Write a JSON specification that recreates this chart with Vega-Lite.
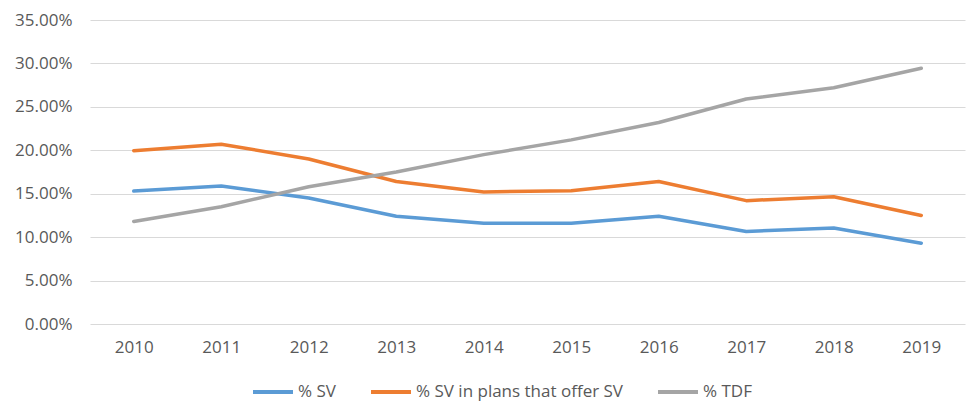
{
  "$schema": "https://vega.github.io/schema/vega-lite/v6.json",
  "autosize": {"type": "none"},
  "width": 875,
  "height": 304,
  "padding": {"left": 90, "top": 20, "right": 14, "bottom": 77},
  "background": "white",
  "config": {
    "font": "Open Sans",
    "view": {"stroke": null}
  },
  "data": {
    "values": [
      {"year": "2010", "series": "% SV", "value": 0.153},
      {"year": "2011", "series": "% SV", "value": 0.159},
      {"year": "2012", "series": "% SV", "value": 0.145},
      {"year": "2013", "series": "% SV", "value": 0.124},
      {"year": "2014", "series": "% SV", "value": 0.116},
      {"year": "2015", "series": "% SV", "value": 0.116},
      {"year": "2016", "series": "% SV", "value": 0.124},
      {"year": "2017", "series": "% SV", "value": 0.1065},
      {"year": "2018", "series": "% SV", "value": 0.1105},
      {"year": "2019", "series": "% SV", "value": 0.093},
      {"year": "2010", "series": "% SV in plans that offer SV", "value": 0.1995},
      {"year": "2011", "series": "% SV in plans that offer SV", "value": 0.207},
      {"year": "2012", "series": "% SV in plans that offer SV", "value": 0.19},
      {"year": "2013", "series": "% SV in plans that offer SV", "value": 0.164},
      {"year": "2014", "series": "% SV in plans that offer SV", "value": 0.152},
      {"year": "2015", "series": "% SV in plans that offer SV", "value": 0.1535},
      {"year": "2016", "series": "% SV in plans that offer SV", "value": 0.164},
      {"year": "2017", "series": "% SV in plans that offer SV", "value": 0.142},
      {"year": "2018", "series": "% SV in plans that offer SV", "value": 0.1465},
      {"year": "2019", "series": "% SV in plans that offer SV", "value": 0.125},
      {"year": "2010", "series": "% TDF", "value": 0.118},
      {"year": "2011", "series": "% TDF", "value": 0.135},
      {"year": "2012", "series": "% TDF", "value": 0.158},
      {"year": "2013", "series": "% TDF", "value": 0.175},
      {"year": "2014", "series": "% TDF", "value": 0.195},
      {"year": "2015", "series": "% TDF", "value": 0.212},
      {"year": "2016", "series": "% TDF", "value": 0.232},
      {"year": "2017", "series": "% TDF", "value": 0.259},
      {"year": "2018", "series": "% TDF", "value": 0.272},
      {"year": "2019", "series": "% TDF", "value": 0.2945}
    ]
  },
  "mark": {"type": "line", "strokeWidth": 3.5, "strokeCap": "round", "strokeJoin": "round"},
  "encoding": {
    "x": {
      "field": "year",
      "type": "ordinal",
      "scale": {"type": "point", "padding": 0.5},
      "axis": {
        "title": null,
        "labelAngle": 0,
        "domain": false,
        "ticks": false,
        "grid": false,
        "labelFontSize": 17,
        "labelColor": "#595959",
        "labelPadding": 15
      }
    },
    "y": {
      "field": "value",
      "type": "quantitative",
      "scale": {"domain": [0, 0.35], "nice": false, "zero": true},
      "axis": {
        "title": null,
        "values": [0, 0.05, 0.1, 0.15, 0.2, 0.25, 0.3, 0.35],
        "format": ".2%",
        "domain": false,
        "ticks": false,
        "gridColor": "#D9D9D9",
        "gridWidth": 1,
        "labelFontSize": 17,
        "labelColor": "#595959",
        "labelPadding": 18
      }
    },
    "color": {
      "field": "series",
      "type": "nominal",
      "scale": {
        "domain": ["% SV", "% SV in plans that offer SV", "% TDF"],
        "range": ["#5B9BD5", "#ED7D31", "#A5A5A5"]
      },
      "legend": {
        "title": null,
        "orient": "none",
        "legendX": 161,
        "legendY": 350,
        "direction": "horizontal",
        "symbolType": "stroke",
        "symbolSize": 1600,
        "symbolStrokeWidth": 4,
        "labelFontSize": 17,
        "labelColor": "#595959",
        "labelOffset": 3,
        "labelLimit": 400,
        "columnPadding": 27
      }
    }
  }
}
